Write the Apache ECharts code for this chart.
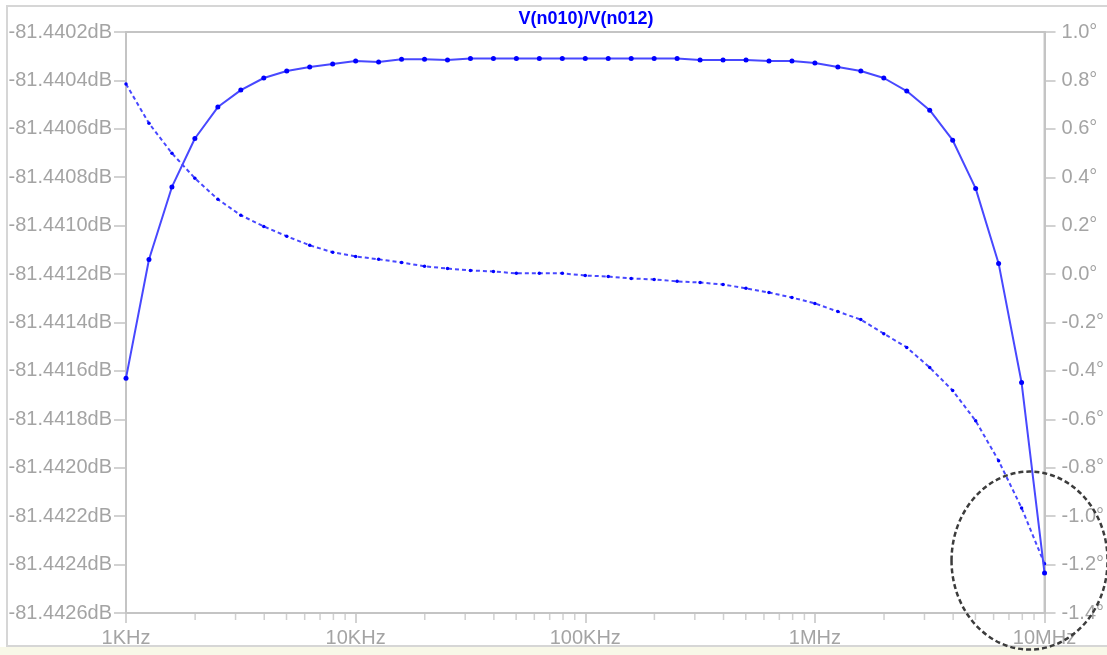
<!DOCTYPE html>
<html><head><meta charset="utf-8">
<script src="https://cdn.jsdelivr.net/npm/echarts@6/dist/echarts.min.js"></script>
<style>html,body{margin:0;padding:0;background:#fff}#c{width:1107px;height:655px}</style>
</head><body><div id="c"></div>
<script>
const FREQ_HZ = [1000,1259,1585,1995,2512,3162,3981,5012,6310,7943,
 10000,12589,15849,19953,25119,31623,39811,50119,63096,79433,
 100000,125893,158489,199526,251189,316228,398107,501187,630957,794328,
 1000000,1258925,1584893,1995262,2511886,3162278,3981072,5011872,6309573,7943282,10000000];
const MAG_DB = [-81.44163,-81.44114,-81.44084,-81.44064,-81.44051,-81.44044,-81.44039,-81.440361,-81.440345,-81.440332,
 -81.44032,-81.440324,-81.440313,-81.440313,-81.440316,-81.440309,-81.440309,-81.440309,-81.440309,-81.440309,
 -81.440309,-81.440309,-81.440309,-81.440309,-81.440309,-81.440316,-81.440316,-81.440316,-81.44032,-81.44032,
 -81.440328,-81.440345,-81.440361,-81.44039,-81.440444,-81.440523,-81.440647,-81.440846,-81.441156,-81.441648,-81.442435];
const PHASE_DEG = [0.785,0.623,0.499,0.396,0.309,0.243,0.197,0.156,0.119,0.090,
 0.073,0.061,0.048,0.032,0.023,0.015,0.011,0.003,0.003,0.003,
 -0.006,-0.010,-0.018,-0.022,-0.030,-0.035,-0.043,-0.059,-0.076,-0.097,
 -0.121,-0.155,-0.188,-0.246,-0.303,-0.386,-0.481,-0.606,-0.771,-0.966,-1.197];
const X_TICK_LABELS = {1000:'1KHz',10000:'10KHz',100000:'100KHz',1000000:'1MHz',10000000:'10MHz'};
const MINOR_TICK_HZ = [2000,3000,4000,5000,6000,7000,8000,9000,
 20000,30000,40000,50000,60000,70000,80000,90000,
 200000,300000,400000,500000,600000,700000,800000,900000,
 2000000,3000000,4000000,5000000,6000000,7000000,8000000,9000000];
const MAG_MIN = -81.4426, MAG_MAX = -81.4402, MAG_STEP = 0.0002;
const PH_MIN = -1.4, PH_MAX = 1.0, PH_STEP = 0.2;
const TITLE = 'V(n010)/V(n012)';

const AX = '#c4c4c4', LBL = '#a4a4a4', FONT = 'Liberation Sans';
const chart = echarts.init(document.getElementById('c'), null, {renderer:'canvas'});
const magData = FREQ_HZ.map((f,i)=>[f, MAG_DB[i]]);
const phData = FREQ_HZ.map((f,i)=>[f, PHASE_DEG[i]]);
const minorData = MINOR_TICK_HZ.map(f=>[f, MAG_MIN]);

chart.setOption({
  animation:false,
  backgroundColor:'#fff',
  grid:{left:126,right:61,top:32,bottom:42,show:true,borderColor:AX,borderWidth:2,backgroundColor:'transparent'},
  xAxis:{type:'log',logBase:10,min:1000,max:10000000,
    axisLine:{onZero:false,lineStyle:{color:AX,width:2}},
    axisTick:{show:true,length:10,lineStyle:{color:AX,width:1.5}},
    splitLine:{show:false},minorTick:{show:false},
    axisLabel:{color:LBL,fontFamily:FONT,fontSize:20,margin:15,
      formatter:v=>X_TICK_LABELS[Math.round(v)]||''}},
  yAxis:[
    {type:'value',min:MAG_MIN,max:MAG_MAX,interval:MAG_STEP,position:'left',
      axisLine:{show:true,onZero:false,lineStyle:{color:AX,width:2}},
      axisTick:{show:true,length:12,lineStyle:{color:AX,width:1.5}},
      splitLine:{show:false},
      axisLabel:{color:LBL,fontFamily:FONT,fontSize:20,margin:14,
        formatter:v=>v.toFixed(4)+'dB'}},
    {type:'value',min:PH_MIN,max:PH_MAX,interval:PH_STEP,position:'right',
      axisLine:{show:true,onZero:false,lineStyle:{color:AX,width:2}},
      axisTick:{show:true,length:11,lineStyle:{color:AX,width:1.5}},
      splitLine:{show:false},
      axisLabel:{color:LBL,fontFamily:FONT,fontSize:20,margin:17,
        formatter:v=>(Math.abs(v)<1e-9?0:v).toFixed(1)+'°'}}
  ],
  series:[
    {type:'scatter',name:'minorTicks',xAxisIndex:0,yAxisIndex:0,data:minorData,silent:true,clip:false,
      symbol:'rect',symbolSize:[1.5,6],symbolOffset:[0,4],itemStyle:{color:AX},z:1},
    {type:'line',name:'phase',xAxisIndex:0,yAxisIndex:1,data:phData,
      lineStyle:{color:'#4848ff',width:2,type:[4,3]},
      symbol:'circle',symbolSize:3.5,showSymbol:true,itemStyle:{color:'#0000ff'},z:3},
    {type:'line',name:'mag',xAxisIndex:0,yAxisIndex:0,data:magData,
      lineStyle:{color:'#4848ff',width:2},
      symbol:'circle',symbolSize:5,showSymbol:true,itemStyle:{color:'#0000ff'},z:4}
  ]
});

const endPt = chart.convertToPixel({xAxisIndex:0,yAxisIndex:1},[FREQ_HZ[FREQ_HZ.length-1], -1.2]);
chart.setOption({graphic:[
  {type:'rect',shape:{x:7,y:6,width:1120,height:640},style:{fill:'none',stroke:'#d6d6d6',lineWidth:2},silent:true,z:0},
  {type:'rect',shape:{x:0,y:647,width:1107,height:8},style:{fill:'#f8f8e8'},silent:true,z:0},
  {type:'text',style:{x:586,y:19,text:TITLE,fill:'#0000ff',font:'bold 18px "Liberation Sans"',textAlign:'center',textVerticalAlign:'middle'},z:10},
  {type:'ellipse',shape:{cx:endPt[0]-15,cy:endPt[1]-4,rx:78,ry:89},
    style:{fill:'none',stroke:'#3c3c3c',lineWidth:2.5,lineDash:[5,3]},silent:true,z:20}
]});
</script></body></html>
